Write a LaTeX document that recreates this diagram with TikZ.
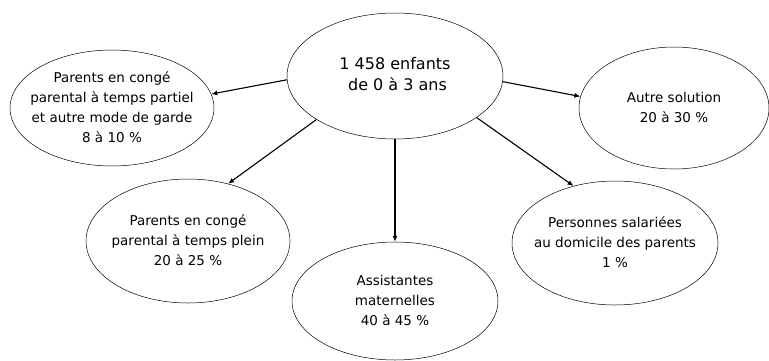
\documentclass[tikz,border=0pt]{standalone}
\usepackage{fontspec}
\setmainfont{DejaVu Sans}
\usetikzlibrary{shapes.geometric,arrows.meta}

% text of a bubble, kept out of the ellipse size
\newcommand{\bubbletext}[1]{\makebox[0pt]{\begin{tabular}{@{}c@{}}#1\end{tabular}}}

\begin{document}
\begin{tikzpicture}[x=1pt,y=-1pt,
        bubble/.style={draw, ellipse, inner sep=0pt,
                font=\fontsize{13.5}{20}\selectfont, line width=0.5pt},
        link/.style={-{Latex[length=6pt,width=5pt]}, line width=1.1pt}]

        \useasboundingbox (0,0) rectangle (769,360);

        \node[bubble, minimum width=216, minimum height=126,
                font=\fontsize{16}{21}\selectfont] (enfants) at (395,76)
                {\bubbletext{1 458 enfants\\ \ de 0 à 3 ans}};

        \node[bubble, minimum width=204, minimum height=116] (partiel) at (112,108)
                {\bubbletext{Parents en congé\\parental à temps partiel\\et autre mode de garde\\8 à 10 \%}};
        \node[bubble, minimum width=190, minimum height=122] (autre) at (674,108)
                {\bubbletext{Autre solution\\20 à 30 \%}};
        \node[bubble, minimum width=204, minimum height=124] (plein) at (188,241)
                {\bubbletext{Parents en congé\\parental à temps plein\\20 à 25 \%}};
        \node[bubble, minimum width=206, minimum height=118] (assist) at (395,301)
                {\bubbletext{Assistantes\\maternelles\\40 à 45 \%}};
        \node[bubble, minimum width=206, minimum height=124] (salaries) at (615,243)
                {\bubbletext{Personnes salariées\\au domicile des parents\\1 \%}};

        \draw[link] (enfants.182) -- (partiel.8);
        \draw[link] (enfants.357) -- (autre.173);
        \draw[link] (enfants.209) -- (plein.55);
        \draw[link] (enfants.south) -- (assist.north);
        \draw[link] (enfants.333) -- (salaries.126);

\end{tikzpicture}
\end{document}
